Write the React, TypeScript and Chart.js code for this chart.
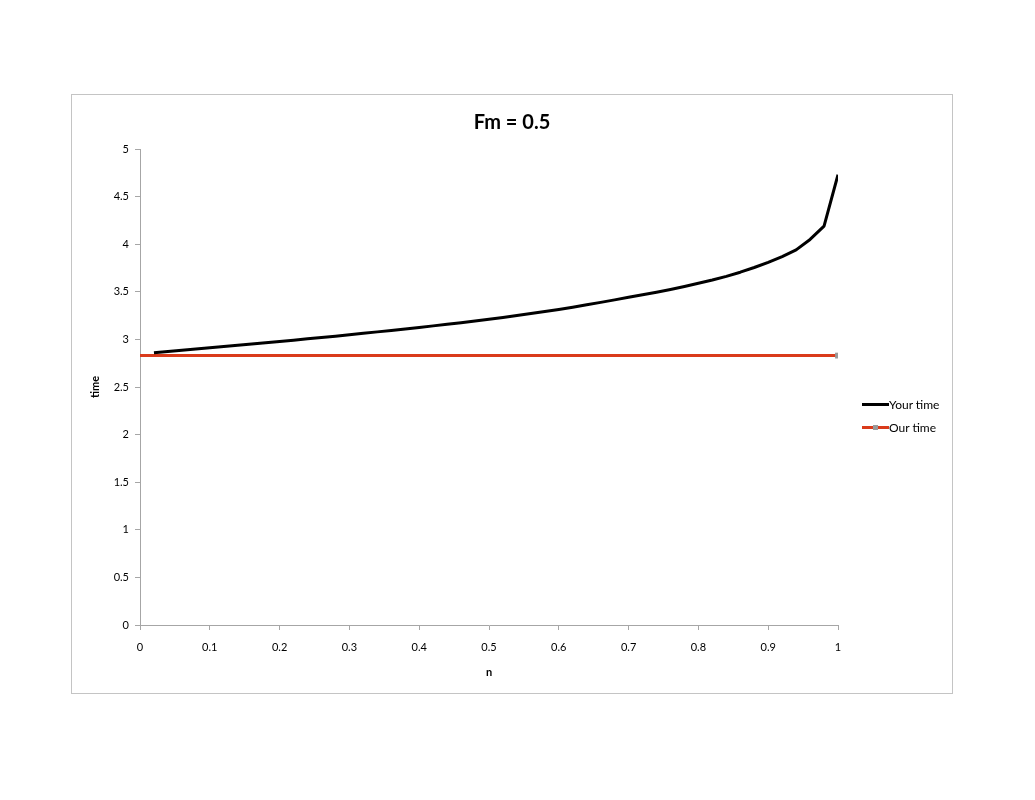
import { useEffect, useRef } from 'react';
import { Chart, registerables } from 'chart.js';

Chart.register(...registerables);

// n values for "Your time" (step 0.02)
const yourN = [
  0.02, 0.04, 0.06, 0.08, 0.1, 0.12, 0.14, 0.16, 0.18, 0.2,
  0.22, 0.24, 0.26, 0.28, 0.3, 0.32, 0.34, 0.36, 0.38, 0.4,
  0.42, 0.44, 0.46, 0.48, 0.5, 0.52, 0.54, 0.56, 0.58, 0.6,
  0.62, 0.64, 0.66, 0.68, 0.7, 0.72, 0.74, 0.76, 0.78, 0.8,
  0.82, 0.84, 0.86, 0.88, 0.9, 0.92, 0.94, 0.96, 0.98, 1,
];
const yourTime = [
  2.86, 2.873, 2.886, 2.899, 2.912, 2.925, 2.938, 2.952, 2.965, 2.979,
  2.992, 3.006, 3.02, 3.034, 3.049, 3.064, 3.079, 3.094, 3.11, 3.126,
  3.142, 3.159, 3.176, 3.194, 3.212, 3.231, 3.251, 3.271, 3.292, 3.314,
  3.338, 3.363, 3.389, 3.415, 3.442, 3.468, 3.495, 3.524, 3.556, 3.59,
  3.624, 3.662, 3.706, 3.755, 3.81, 3.87, 3.94, 4.05, 4.19, 4.73,
];

const ourN = [0, 1];
const ourTime = [2.83, 2.83];

const xTickLabels = ['0', '0.1', '0.2', '0.3', '0.4', '0.5', '0.6', '0.7', '0.8', '0.9', '1'];
const yTickLabels = ['0', '0.5', '1', '1.5', '2', '2.5', '3', '3.5', '4', '4.5', '5'];

const RED = '#da3b1b';
const AXIS = '#a6a6a6';
const FONT = 'Lato, "Open Sans", sans-serif';

const App = () => {
  const chartRef = useRef<HTMLCanvasElement>(null);

  useEffect(() => {
    if (!chartRef.current) return;

    const chart = new Chart(chartRef.current, {
      type: 'line',
      data: {
        datasets: [
          {
            label: 'Your time',
            data: yourN.map((n, i) => ({ x: n, y: yourTime[i] })),
            borderColor: '#000000',
            borderWidth: 3,
            pointRadius: 0,
            tension: 0,
            borderJoinStyle: 'round',
          },
          {
            label: 'Our time',
            data: ourN.map((n, i) => ({ x: n, y: ourTime[i] })),
            borderColor: RED,
            borderWidth: 3,
            pointRadius: [0, 2],
            pointStyle: 'rect',
            pointBackgroundColor: '#9a9a9a',
            pointBorderColor: '#9a9a9a',
            tension: 0,
          },
        ],
      },
      options: {
        animation: false,
        responsive: false,
        layout: {
          padding: 0,
        },
        plugins: {
          legend: { display: false },
          tooltip: { enabled: false },
          title: {
            display: true,
            text: 'Fm = 0.5',
            color: '#000',
            font: { family: FONT, size: 20, weight: 'bold', lineHeight: 1.2 },
            padding: { top: 16, bottom: 14 },
          },
        },
        scales: {
          x: {
            type: 'linear',
            min: 0,
            max: 1,
            afterFit: (scale) => {
              scale.height = 68;
            },
            ticks: {
              stepSize: 0.1,
              color: '#000',
              padding: 11,
              maxRotation: 0,
              font: { family: FONT, size: 11 },
              callback: (_v, i) => xTickLabels[i],
            },
            grid: {
              drawOnChartArea: false,
              drawTicks: true,
              tickLength: 5,
              color: AXIS,
            },
            border: { color: AXIS, width: 1 },
            title: {
              display: true,
              text: 'n',
              color: '#000',
              font: { family: FONT, size: 11, weight: 'bold', lineHeight: 1.2 },
              padding: { top: 0, bottom: 14 },
            },
          },
          y: {
            type: 'linear',
            min: 0,
            max: 5,
            afterFit: (scale) => {
              scale.width = 68;
            },
            ticks: {
              stepSize: 0.5,
              color: '#000',
              padding: 6,
              font: { family: FONT, size: 11 },
              callback: (_v, i) => yTickLabels[i],
            },
            grid: {
              drawOnChartArea: false,
              drawTicks: true,
              tickLength: 5,
              color: AXIS,
            },
            border: { color: AXIS, width: 1 },
            title: {
              display: true,
              text: 'time',
              color: '#000',
              font: { family: FONT, size: 11, weight: 'bold', lineHeight: 1.2 },
              padding: { top: 17, bottom: 0 },
            },
          },
          // empty right-hand box that keeps room for the legend
          spacer: {
            type: 'linear',
            position: 'right',
            display: true,
            afterFit: (scale) => {
              scale.width = 114;
            },
            ticks: { display: false },
            grid: { display: false },
            border: { display: false },
          },
        },
      },
    });

    return () => chart.destroy();
  }, []);

  const legendRow = (top: number, color: string, text: string, marker: boolean) => (
    <div
      style={{
        position: 'absolute',
        left: 862,
        top: top - 8,
        height: 16,
        display: 'flex',
        alignItems: 'center',
        fontFamily: FONT,
        fontSize: 12,
        color: '#000',
        whiteSpace: 'nowrap',
      }}
    >
      <span style={{ position: 'relative', width: 27, height: 3, background: color, display: 'inline-block' }}>
        {marker && (
          <span
            style={{
              position: 'absolute',
              left: 11,
              top: -1,
              width: 5,
              height: 5,
              background: '#9a9a9a',
            }}
          />
        )}
      </span>
      <span>{text}</span>
    </div>
  );

  return (
    <div style={{ position: 'absolute', left: 0, top: 0, width: 1035, height: 800, background: '#fff' }}>
      <div
        style={{
          position: 'absolute',
          left: 71,
          top: 94,
          width: 880,
          height: 598,
          border: '1px solid #c4c4c4',
        }}
      >
        <canvas ref={chartRef} width={880} height={598} style={{ width: 880, height: 598, display: 'block' }} />
      </div>
      {legendRow(404, '#000000', 'Your time', false)}
      {legendRow(427, RED, 'Our time', true)}
    </div>
  );
};

export default App;
